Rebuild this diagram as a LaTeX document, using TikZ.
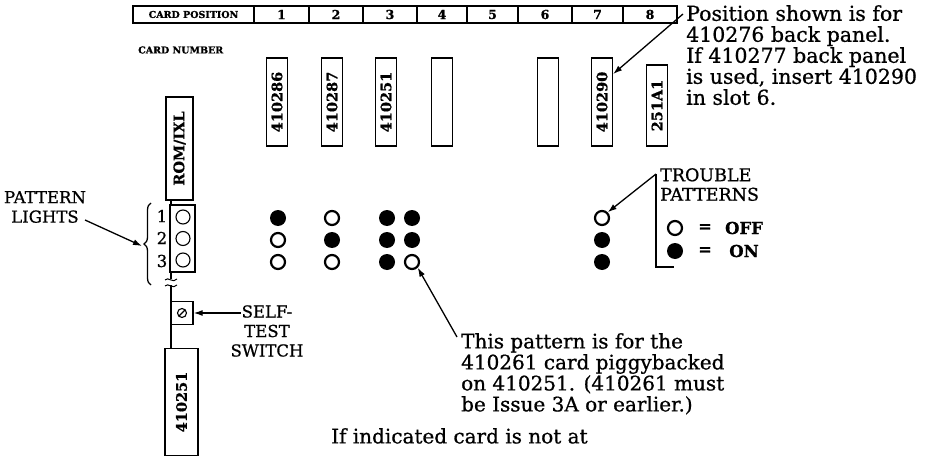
\documentclass[tikz,border=0pt]{standalone}
\usepackage{fontspec}
\setmainfont{DejaVu Serif}[RawFeature={embolden=0.8}]
\usepackage{graphicx}
\usetikzlibrary{arrows.meta,decorations.pathreplacing,calc}
\begin{document}
\begin{tikzpicture}[x=1pt,y=-1pt,
  lw/.style={line width=1.3pt},
  cell/.style={draw,lw,inner sep=0,minimum height=17pt,font=\fontsize{12.5}{12.5}\selectfont\bfseries},
  card/.style={draw,lw,inner sep=0,minimum width=21pt,minimum height=88pt,font=\fontsize{14.5}{14.5}\selectfont\bfseries},
  on/.style={circle,fill,inner sep=0,minimum size=16pt},
  off/.style={circle,draw,line width=2.2pt,inner sep=0,minimum size=14pt},
  lamp/.style={circle,draw,line width=1.1pt,inner sep=0,minimum size=14pt},
  note/.style={inner sep=0,align=left,font=\fontsize{20}{21}\selectfont},
  caps/.style={inner sep=0,align=center,font=\fontsize{16.5}{19.5}\selectfont},
  small/.style={inner sep=0,font=\fontsize{9.5}{10}\selectfont\bfseries},
  arr/.style={line width=1.3pt,-{Latex[length=9pt,width=6pt]}},
]
\useasboundingbox (0,0) rectangle (936,457);

% table
\node[cell,minimum width=121pt,font=\fontsize{9.5}{10}\selectfont\bfseries] (cp) at (193.5,14.5) {CARD POSITION};
\node[cell,minimum width=55pt] (p1) at (281.5,14.5) {1};
\node[cell,minimum width=54pt] (p2) at (336,14.5) {2};
\node[cell,minimum width=54pt] (p3) at (390,14.5) {3};
\node[cell,minimum width=50pt] (p4) at (442,14.5) {4};
\node[cell,minimum width=51pt] (p5) at (492.5,14.5) {5};
\node[cell,minimum width=54pt] (p6) at (545,14.5) {6};
\node[cell,minimum width=51pt] (p7) at (597.5,14.5) {7};
\node[cell,minimum width=54pt] (p8) at (650,14.5) {8};

\node[small,anchor=west] (cn) at (138,50) {CARD NUMBER};

% cards
\node[card] (c1) at (277,102) {\rotatebox{90}{410286}};
\node[card] (c2) at (332,102) {\rotatebox{90}{410287}};
\node[card] (c3) at (386,102) {\rotatebox{90}{410251}};
\node[card] (c4) at (442,102) {};
\node[card] (c6) at (548,102) {};
\node[card] (c7) at (602,102) {\rotatebox{90}{410290}};
\node[card,minimum height=81pt] (c8) at (657,105.5) {\rotatebox{90}{251A1}};

% position note
\node[note,anchor=north west,font=\fontsize{20.5}{21}\selectfont] (pn) at (686,5) {Position shown is for\\410276 back panel.\\If 410277 back panel\\is used, insert 410290\\in slot 6.};
\coordinate (pnfrom) at (683,14);
\draw[arr] (pnfrom) -- ([yshift=28pt]c7.east);

% left column
\node[card,minimum width=27pt,minimum height=103pt] (rom) at (179.5,148.5) {\rotatebox{90}{ROM/IXL}};
\node[draw,lw,inner sep=0,minimum width=25pt,minimum height=67pt] (pb) at (182.5,238.5) {};
\node[lamp] (l1) at (183,217) {};
\node[lamp] (l2) at (183,238.5) {};
\node[lamp] (l3) at (183,260) {};
\node[inner sep=0,font=\fontsize{16.5}{16.5}\selectfont] (n1) at (162,216) {1};
\node[inner sep=0,font=\fontsize{16.5}{16.5}\selectfont] (n2) at (162,238) {2};
\node[inner sep=0,font=\fontsize{16.5}{16.5}\selectfont] (n3) at (162,261) {3};
\draw[lw,decorate,decoration={brace,amplitude=7pt}] (151,285) -- (151,203);
\coordinate (bt) at (142,246);
\node[caps] (pl) at (45,207) {PATTERN\\LIGHTS};
\coordinate (plfrom) at (85,220);
\draw[arr] (plfrom) -- (bt);

\node[draw,lw,inner sep=0,minimum width=22pt,minimum height=23pt] (sw) at (182,313) {};
\draw[line width=1.1pt] (sw.center) circle (4.5pt);
\draw[line width=1.3pt] ($(sw.center)+(-3,3)$) -- ($(sw.center)+(3,-3)$);
\node[caps] (st) at (267,331) {SELF-\\TEST\\SWITCH};
\coordinate (stfrom) at (241,313);
\draw[arr] (stfrom) -- (sw.east);

\node[card,minimum width=33pt,minimum height=107pt] (bb) at (181.5,402) {\rotatebox{90}{410251}};

% vertical line with break
\draw[lw] (171,200) -- (171,205);
\draw[lw] (171,272) -- (171,279);
\draw[lw] (171,285) -- (171,301.5);
\draw[lw] (171,324.5) -- (171,348.5);
\draw[line width=1pt] (165,280) .. controls (168,276) and (173,284) .. (177,279);
\draw[line width=1pt] (165,286) .. controls (168,282) and (173,290) .. (177,285);

% patterns
\node[on] (a1) at (278,218) {};
\node[off] (a2) at (278,240) {};
\node[off] (a3) at (278,262) {};
\node[off] (b1) at (332,218) {};
\node[on] (b2) at (332,240) {};
\node[off] (b3) at (332,262) {};
\node[on] (d1) at (387,218) {};
\node[on] (d2) at (387,240) {};
\node[on] (d3) at (387,262) {};
\node[on] (e1) at (412,218) {};
\node[on] (e2) at (412,240) {};
\node[off] (e3) at (412,262) {};
\node[off] (t1) at (602,218) {};
\node[on] (t2) at (602,240) {};
\node[on] (t3) at (602,262) {};

% trouble patterns legend
\node[caps,align=left,anchor=north west,font=\fontsize{17.5}{19.5}\selectfont] (tp) at (660,168) {TROUBLE\\PATTERNS};
\coordinate (tptop) at (656,174);
\coordinate (tpbot) at (656,267);
\coordinate (tpend) at (674,267);
\draw[lw] (tptop) -- (tpbot) -- (tpend);
\draw[arr] (tptop) -- (t1.north east);
\node[off] (loff) at (675,228) {};
\node[on] (lon) at (675,251) {};
\node[inner sep=0,font=\fontsize{16}{16}\selectfont\bfseries] (eq1) at (705,228) {=};
\node[inner sep=0,font=\fontsize{16}{16}\selectfont\bfseries] (eq2) at (705,251) {=};
\node[inner sep=0,font=\fontsize{16.5}{16.5}\selectfont\bfseries] (toff) at (744,228) {OFF};
\node[inner sep=0,font=\fontsize{16.5}{16.5}\selectfont\bfseries] (ton) at (744,251) {ON};

% piggyback note
\node[note,anchor=north west] (pg) at (461,333) {This pattern is for the\\410261 card piggybacked\\on 410251. (410261 must\\be Issue 3A or earlier.)};
\coordinate (pgfrom) at (457,337);
\draw[arr] (pgfrom) -- (e3.south east);

\node[note,anchor=north west] (bot) at (331,428) {If indicated card is not at};
\end{tikzpicture}
\end{document}
